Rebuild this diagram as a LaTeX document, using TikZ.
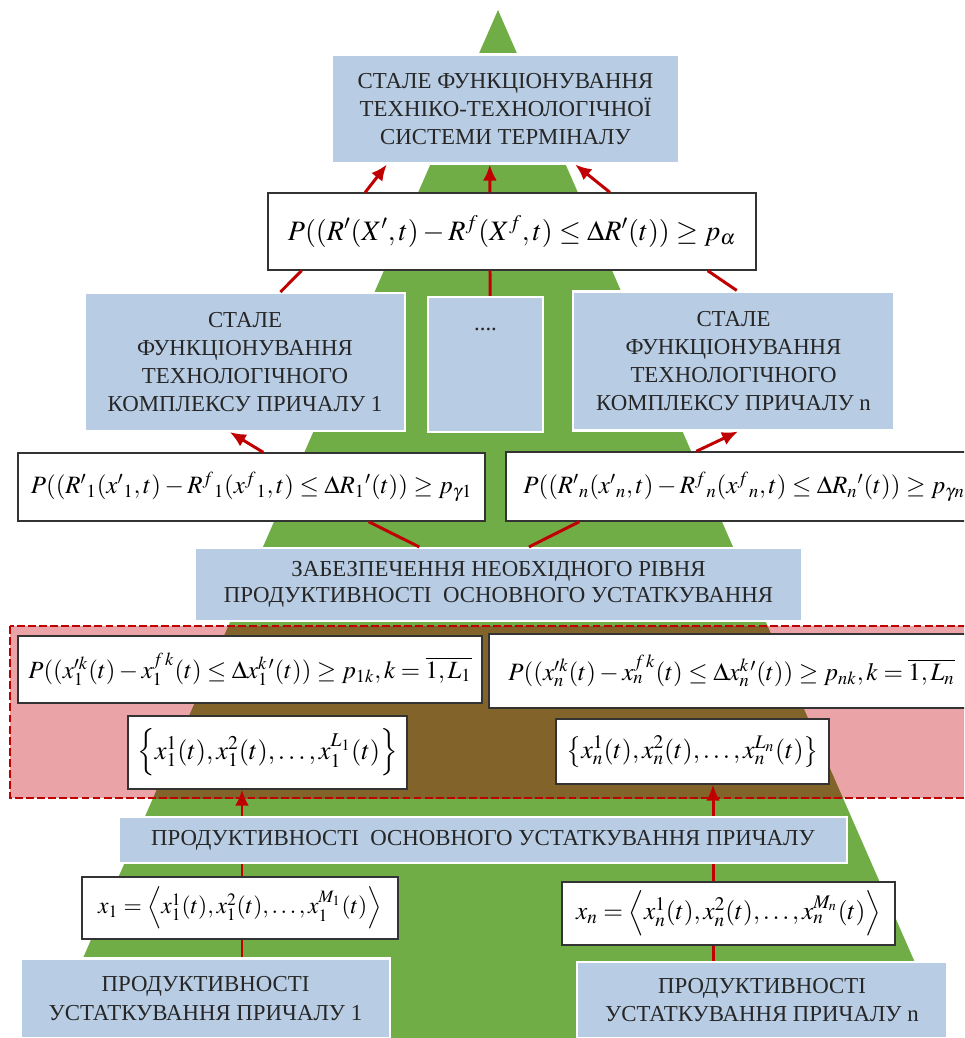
\documentclass[tikz,border=0pt]{standalone}
\usepackage{mathptmx}
\usepackage{fontspec}
\setmainfont{Liberation Serif}
\usetikzlibrary{arrows.meta,calc}
\definecolor{treegreen}{RGB}{112,173,71}
\definecolor{boxblue}{RGB}{184,204,228}
\definecolor{linkred}{RGB}{192,0,0}
\definecolor{zonepink}{RGB}{234,164,167}
\definecolor{zonebrown}{RGB}{130,100,42}

\begin{document}
\begin{tikzpicture}[
  x=0.02cm, y=-0.02cm,
  bluebox/.style={rectangle, fill=boxblue, draw=white, line width=1.2pt, align=center,
    inner sep=1pt, text=black!85, font=\fontsize{13}{16}\selectfont},
  mathbox/.style={rectangle, fill=white, draw=black!80, line width=0.8pt, inner sep=1pt,
    font=\fontsize{#1}{18}\selectfont},
  mathbox/.default=15,
  link/.style={draw=linkred, line width=1.7pt},
  uplink/.style={link, -{Latex[length=3.2mm,width=2.8mm]}}
]
\clip (0,0) rectangle (964,1038);

% the tree and the dashed zone
\fill[treegreen] (498,10) -- (948,1038) -- (48,1038) -- cycle;
\fill[zonepink] (10,626) rectangle (980,798);
\begin{scope}
  \clip (10,626) rectangle (980,798);
  \fill[zonebrown] (498,10) -- (948,1038) -- (48,1038) -- cycle;
\end{scope}
\draw[linkred, line width=1.1pt, dash pattern=on 4.5pt off 1.8pt] (10,626) rectangle (980,798);

% level 0
\node[bluebox, minimum width=6.94cm, minimum height=2.18cm] (top) at (505.5,109)
  {СТАЛЕ ФУНКЦІОНУВАННЯ\\ТЕХНІКО-ТЕХНОЛОГІЧНОЇ\\СИСТЕМИ ТЕРМІНАЛУ};
\node[mathbox=16, minimum width=9.76cm, minimum height=1.54cm] (palpha) at (512,231.5)
  {$P((R'(X',t)-R^{f}(X^{f},t)\le\Delta R'(t))\ge p_{\alpha}$};

% level 1
\node[bluebox, minimum width=6.4cm, minimum height=2.76cm] (mid1) at (245,362)
  {СТАЛЕ\\ФУНКЦІОНУВАННЯ\\ТЕХНОЛОГІЧНОГО\\КОМПЛЕКСУ ПРИЧАЛУ 1};
\node[bluebox, minimum width=2.3cm, minimum height=2.7cm] (dots) at (485.5,364.5)
  {\raisebox{1.4cm}{....}};
\node[bluebox, minimum width=6.42cm, minimum height=2.78cm] (midn) at (733.5,361)
  {СТАЛЕ\\ФУНКЦІОНУВАННЯ\\ТЕХНОЛОГІЧНОГО\\КОМПЛЕКСУ ПРИЧАЛУ n};
\node[mathbox=14.2, minimum width=9.34cm, minimum height=1.36cm] (pg1) at (251.5,487)
  {$P((R'{}_1(x'{}_1,t)-R^{f}{}_1(x^{f}{}_1,t)\le\Delta R_1{}'(t))\ge p_{\gamma 1}$};
\node[mathbox=14.2, minimum width=9.52cm, minimum height=1.38cm] (pgn) at (744,486.5)
  {$P((R'{}_n(x'{}_n,t)-R^{f}{}_n(x^{f}{}_n,t)\le\Delta R_n{}'(t))\ge p_{\gamma n}$};

% level 2
\node[bluebox, minimum width=12.14cm, minimum height=1.46cm, font=\fontsize{13}{14.5}\selectfont]
  (zab) at (498.5,584.5)
  {ЗАБЕЗПЕЧЕННЯ НЕОБХІДНОГО РІВНЯ\\ПРОДУКТИВНОСТІ\ \ ОСНОВНОГО УСТАТКУВАННЯ};
\node[mathbox=14.1, minimum width=9.28cm, minimum height=1.34cm] (pk1) at (250,669.5)
  {$P((x^{\prime k}_1(t)-x^{f\,k}_1(t)\le\Delta x^{k\,\prime}_1(t))\ge p_{1k},k=\overline{1,L_1}$};
\node[mathbox=14.2, minimum width=9.7cm, minimum height=1.48cm] (pkn) at (731.5,671)
  {$P((x^{\prime k}_n(t)-x^{f\,k}_n(t)\le\Delta x^{k\,\prime}_n(t))\ge p_{nk},k=\overline{1,L_n}$};
\node[mathbox, minimum width=5.58cm, minimum height=1.46cm] (set1) at (267.5,752.5)
  {$\left\{x_1^1(t),x_1^2(t),\ldots,x_1^{L_1}(t)\right\}$};
\node[mathbox=14.8, minimum width=5.46cm, minimum height=1.3cm] (setn) at (692.5,751.5)
  {$\left\{x_n^1(t),x_n^2(t),\ldots,x_n^{L_n}(t)\right\}$};

% level 3
\node[bluebox, minimum width=14.56cm, minimum height=0.92cm] (prod) at (483,840)
  {ПРОДУКТИВНОСТІ\ \ ОСНОВНОГО УСТАТКУВАННЯ ПРИЧАЛУ};
\node[mathbox=13.4, minimum width=6.32cm, minimum height=1.24cm] (x1) at (240,908)
  {$x_1=\left\langle x_1^1(t),x_1^2(t),\ldots,x_1^{M_1}(t)\right\rangle$};
\node[mathbox=14.4, minimum width=6.66cm, minimum height=1.26cm] (xn) at (728.5,913.5)
  {$x_n=\left\langle x_n^1(t),x_n^2(t),\ldots,x_n^{M_n}(t)\right\rangle$};
\node[bluebox, minimum width=7.38cm, minimum height=1.6cm] (bot1) at (205.5,998.5)
  {ПРОДУКТИВНОСТІ\\УСТАТКУВАННЯ ПРИЧАЛУ 1};
\node[bluebox, minimum width=7.4cm, minimum height=1.52cm] (botn) at (762,1000)
  {ПРОДУКТИВНОСТІ\\УСТАТКУВАННЯ ПРИЧАЛУ n};

% connectors
\draw[uplink] ($(palpha.north west)!0.2!(palpha.north east)$) -- ($(top.south west)!0.16!(top.south east)$);
\draw[uplink] ($(palpha.north west)!0.455!(palpha.north east)$) -- ($(top.south west)!0.455!(top.south east)$);
\draw[uplink] ($(palpha.north west)!0.7!(palpha.north east)$) -- ($(top.south west)!0.7!(top.south east)$);

\draw[link] ($(mid1.north west)!0.61!(mid1.north east)$) -- ($(palpha.south west)!0.07!(palpha.south east)$);
\draw[link] ($(dots.north west)!0.54!(dots.north east)$) -- ($(palpha.south west)!0.455!(palpha.south east)$);
\draw[link] ($(midn.north west)!0.51!(midn.north east)$) -- ($(palpha.south west)!0.9!(palpha.south east)$);

\draw[uplink] ($(pg1.north west)!0.525!(pg1.north east)$) -- ($(mid1.south west)!0.453!(mid1.south east)$);
\draw[uplink] ($(pgn.north west)!0.4!(pgn.north east)$) -- ($(midn.south west)!0.514!(midn.south east)$);

\draw[link] ($(zab.north west)!0.37!(zab.north east)$) -- ($(pg1.south west)!0.75!(pg1.south east)$);
\draw[link] ($(zab.north west)!0.55!(zab.north east)$) -- ($(pgn.south west)!0.155!(pgn.south east)$);

\coordinate (vl) at (242,0);
\coordinate (vr) at (713,0);
\draw[link] (bot1.north -| vl) -- (x1.south -| vl);
\draw[link] (x1.north -| vl) -- (prod.south -| vl);
\draw[uplink] (prod.north -| vl) -- (set1.south -| vl);
\draw[link] (botn.north -| vr) -- (xn.south -| vr);
\draw[link] (xn.north -| vr) -- (prod.south -| vr);
\draw[uplink] (prod.north -| vr) -- (setn.south -| vr);

\end{tikzpicture}
\end{document}
